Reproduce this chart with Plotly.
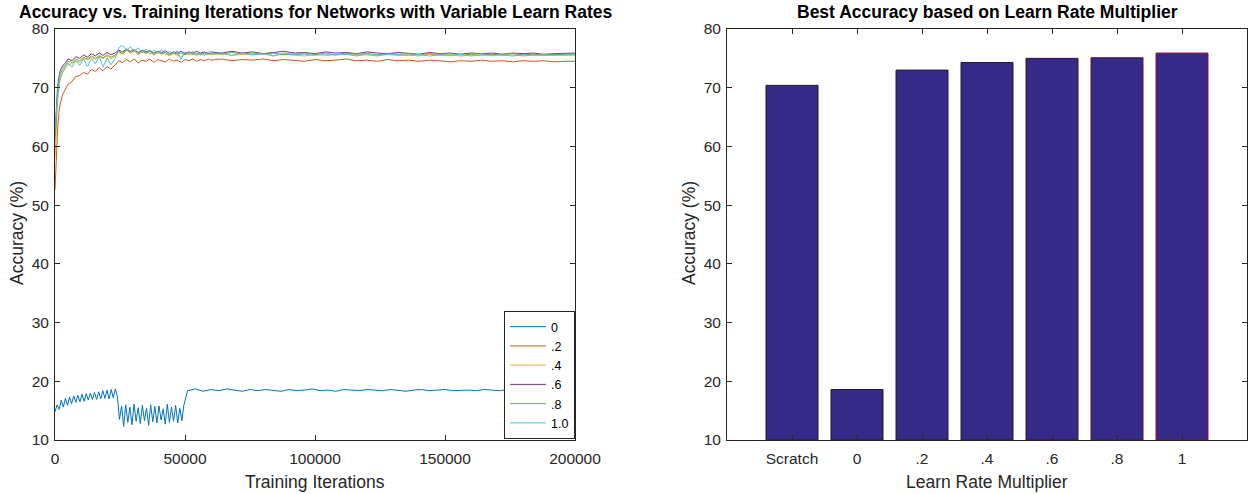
import plotly.graph_objects as go

W, H = 1249, 494

# ---------------- left panel: accuracy vs. training iterations ----------------
# Learn-rate multiplier 0 (sampled densely to keep its sawtooth shape)
iters_lr0 = list(range(0, 50400, 800)) + list(range(51000, 201000, 3000))
acc_lr0 = [
    14.8, 16.0, 15.2, 16.8, 15.6, 17.1, 15.9, 17.3, 16.2, 17.5, 16.4, 17.6,
    16.5, 17.8, 16.6, 17.9, 16.8, 18.0, 16.9, 18.1, 16.9, 18.2, 17.0, 18.4,
    17.1, 18.5, 17.0, 18.6, 17.2, 18.7, 17.4,
    13.5, 15.8, 12.3, 16.0, 13.0, 15.6, 12.6, 16.1, 13.2, 15.5, 12.8, 15.9,
    13.3, 15.4, 12.5, 16.0, 13.1, 15.7, 12.9, 15.8, 13.4, 15.3, 12.7, 16.1,
    13.0, 15.6, 13.2, 15.9, 12.9, 15.4, 13.3, 16.0,
    18.4, 18.7, 18.3, 18.6, 18.4, 18.7, 18.5, 18.3, 18.6, 18.4,
    18.6, 18.5, 18.3, 18.6, 18.4, 18.5, 18.7, 18.4, 18.5, 18.3,
    18.6, 18.5, 18.4, 18.6, 18.5, 18.4, 18.6, 18.5, 18.3, 18.5,
    18.6, 18.4, 18.5, 18.6, 18.4, 18.5, 18.5, 18.4, 18.6, 18.5,
    18.4, 18.6, 18.5, 18.4, 18.5, 18.6, 18.4, 18.5, 18.5, 18.5,
]

# Shared iteration grid for the non-zero multipliers
iters = [0, 500, 1000, 1500, 2000, 3000, 4000] + list(range(5000, 60000, 1500)) \
    + list(range(60000, 200001, 4000))

acc_lr02 = [
    52.6, 58.5, 63.0, 65.8, 67.2, 68.9, 69.8, 70.6, 71.0, 71.9, 72.1, 72.6,
    72.3, 73.1, 72.8, 73.4, 72.9, 73.6, 73.2, 73.8, 74.6, 74.3, 74.8, 74.4,
    74.9, 74.2, 74.7, 74.5, 74.9, 74.3, 74.8, 74.6, 74.4, 74.9, 74.5, 74.7,
    74.3, 74.8, 74.6, 74.9, 74.5, 74.8, 74.6, 74.9,
    74.7, 74.9, 74.6, 74.8, 74.7, 74.9, 74.6, 74.8, 74.7, 74.5, 74.8, 74.6,
    74.7, 74.9, 74.6, 74.7, 74.5, 74.8, 74.6, 74.7, 74.5, 74.7, 74.6, 74.4,
    74.6, 74.5, 74.7, 74.5, 74.6, 74.4, 74.6, 74.5, 74.6, 74.4, 74.5, 74.5,
]
acc_lr04 = [
    58.0, 64.5, 68.2, 70.1, 71.4, 72.6, 73.2, 73.9, 74.1, 74.6, 74.3, 75.0,
    74.7, 75.2, 74.8, 75.3, 75.0, 75.4, 74.9, 75.3, 76.0, 75.7, 76.4, 75.9,
    76.3, 75.6, 76.1, 75.8, 76.2, 75.5, 76.0, 75.7, 75.9, 75.4, 75.8, 75.6,
    75.3, 75.9, 75.6, 75.8, 75.5, 75.9, 75.6, 75.8,
    75.6, 75.8, 75.5, 75.7, 75.6, 75.8, 75.5, 75.7, 75.6, 75.4, 75.7, 75.5,
    75.6, 75.8, 75.5, 75.6, 75.4, 75.7, 75.5, 75.6, 75.4, 75.7, 75.5, 75.6,
    75.4, 75.6, 75.5, 75.7, 75.5, 75.6, 75.4, 75.6, 75.5, 75.6, 75.5, 75.6,
]
acc_lr06 = [
    62.0, 67.5, 70.2, 71.8, 72.9, 73.8, 74.2, 74.9, 74.6, 75.3, 75.0, 75.6,
    75.2, 75.8, 75.4, 75.9, 75.5, 76.0, 75.6, 75.9, 76.4, 76.1, 76.6, 76.2,
    76.5, 76.0, 76.4, 76.1, 76.3, 75.9, 76.2, 76.0, 76.3, 75.8, 76.1, 75.9,
    76.2, 75.8, 76.1, 75.9, 76.2, 75.9, 76.1, 75.8,
    76.1, 75.9, 76.2, 75.9, 76.1, 75.8, 76.0, 76.2, 75.9, 76.0, 75.8, 76.1,
    75.9, 76.0, 75.8, 76.1, 75.9, 75.8, 76.0, 75.9, 75.7, 76.0, 75.8, 75.9,
    75.7, 75.9, 75.8, 75.9, 75.7, 75.9, 75.8, 75.9, 75.7, 75.8, 75.8, 75.9,
]
acc_lr08 = [
    61.0, 66.8, 69.5, 71.2, 72.4, 73.3, 73.9, 74.5, 74.3, 74.9, 74.6, 75.2,
    74.9, 75.4, 75.0, 75.5, 75.1, 75.6, 75.2, 75.5, 76.2, 75.8, 76.5, 76.0,
    76.4, 75.8, 76.3, 75.9, 76.2, 75.7, 76.1, 75.8, 76.0, 75.6, 76.0, 75.7,
    75.9, 75.6, 76.0, 75.7, 75.9, 75.6, 75.9, 75.7,
    75.9, 75.7, 76.0, 75.8, 75.9, 75.7, 75.9, 75.6, 75.8, 75.9, 75.7, 75.8,
    75.6, 75.9, 75.7, 75.8, 75.6, 75.8, 75.7, 75.8, 75.6, 75.8, 75.7, 75.8,
    75.6, 75.7, 75.8, 75.6, 75.7, 75.8, 75.6, 75.7, 75.6, 75.7, 75.7, 75.7,
]
acc_lr10 = [
    63.0, 66.0, 69.0, 70.4, 71.9, 72.8, 73.6, 74.2, 73.5, 74.6, 73.8, 74.9,
    73.6, 75.0, 74.1, 75.3, 73.5, 75.1, 73.9, 74.8, 76.8, 77.2, 76.3, 77.0,
    76.1, 76.8, 75.9, 76.6, 75.7, 76.4, 75.9, 76.5, 75.6, 76.2, 75.8, 76.3,
    74.8, 76.1, 75.7, 76.2, 75.6, 76.0, 75.5, 76.1,
    75.7, 76.0, 75.5, 75.9, 75.6, 75.8, 75.4, 75.9, 75.6, 75.7, 75.5, 75.8,
    75.6, 75.7, 75.4, 75.8, 75.5, 75.7, 75.6, 75.5, 75.7, 75.4, 75.6, 75.5,
    75.7, 75.4, 75.6, 75.5, 75.6, 75.4, 75.6, 75.5, 75.6, 75.5, 75.6, 75.6,
]

series_names = ["0", ".2", ".4", ".6", ".8", "1.0"]
series_colors = ["#0072BD", "#D95319", "#EDB120", "#7E2F8E", "#77AC30", "#4DBEEE"]

# ---------------- right panel: best accuracy per multiplier ----------------
bar_labels = ["Scratch", "0", ".2", ".4", ".6", ".8", "1"]
best_acc = [70.4, 18.6, 73.0, 74.3, 75.0, 75.1, 75.9]
bar_edges = ["#1c1c2c", "#1c1c2c", "#1c1c2c", "#1c1c2c", "#3a1428", "#5a1428", "#9a1030"]

FONT = "Liberation Sans, Arial, sans-serif"
AX = "#262626"

fig = go.Figure()

xs = [iters_lr0, iters, iters, iters, iters, iters]
ys = [acc_lr0, acc_lr02, acc_lr04, acc_lr06, acc_lr08, acc_lr10]
for name, color, x, y in zip(series_names, series_colors, xs, ys):
    fig.add_trace(go.Scatter(
        x=x, y=y, mode="lines", name=name,
        line=dict(color=color, width=1),
        xaxis="x", yaxis="y",
    ))

fig.add_trace(go.Bar(
    x=list(range(len(bar_labels))), y=[v - 10 for v in best_acc], base=10,
    marker=dict(color="#352A87", line=dict(color=bar_edges, width=1)),
    width=0.8, showlegend=False, xaxis="x2", yaxis="y2",
))

left_dom = [55 / W, 575 / W]
right_dom = [727 / W, 1247 / W]
y_dom = [1 - 440 / H, 1 - 29 / H]

axis_common = dict(
    showline=True, linecolor=AX, linewidth=1, mirror="ticks",
    ticks="inside", ticklen=5, tickcolor=AX, showgrid=False, zeroline=False,
    automargin=False,
    tickfont=dict(family=FONT, size=15.5, color=AX),
)

fig.update_layout(
    width=W, height=H,
    margin=dict(l=0, r=0, t=0, b=0, pad=0, autoexpand=False),
    paper_bgcolor="white", plot_bgcolor="white",
    font=dict(family=FONT, color=AX),
    xaxis=dict(domain=left_dom, range=[0, 200000], tickvals=[0, 50000, 100000, 150000, 200000],
               ticktext=["0", "50000", "100000", "150000", "200000"], anchor="y",
               ticklabelstandoff=4, **axis_common),
    yaxis=dict(domain=y_dom, range=[10, 80], tickvals=[10, 20, 30, 40, 50, 60, 70, 80],
               anchor="x", ticklabelstandoff=2, **axis_common),
    xaxis2=dict(domain=right_dom, range=[-1, 7], tickvals=list(range(len(bar_labels))),
                ticktext=bar_labels, anchor="y2", ticklabelstandoff=4, **axis_common),
    yaxis2=dict(domain=y_dom, range=[10, 80], tickvals=[10, 20, 30, 40, 50, 60, 70, 80],
                anchor="x2", ticklabelstandoff=2, **axis_common),
    legend=dict(
        x=575 / W, y=1 - 439 / H, xanchor="right", yanchor="bottom",
        bgcolor="white", bordercolor=AX, borderwidth=1,
        font=dict(family=FONT, size=12.5, color="black"),
        tracegroupgap=0, itemwidth=36,
    ),
    bargap=0.2,
)

def label(text, x, y, size, bold=False, angle=0):
    fig.add_annotation(
        text=f"<b>{text}</b>" if bold else text,
        x=x / W, y=1 - y / H, xref="paper", yref="paper",
        showarrow=False, textangle=angle, xanchor="center", yanchor="middle",
        font=dict(family=FONT, size=size, color="black" if bold else AX),
    )

label("Accuracy vs. Training Iterations for Networks with Variable Learn Rates", 316, 12, 17.5, bold=True)
label("Best Accuracy based on Learn Rate Multiplier", 987, 12, 17.5, bold=True)
label("Training Iterations", 315, 482, 17.5)
label("Learn Rate Multiplier", 987, 482, 17.5)
label("Accuracy (%)", 17, 233, 17.5, angle=-90)
label("Accuracy (%)", 689, 233, 17.5, angle=-90)

fig.write_html("out.html")
